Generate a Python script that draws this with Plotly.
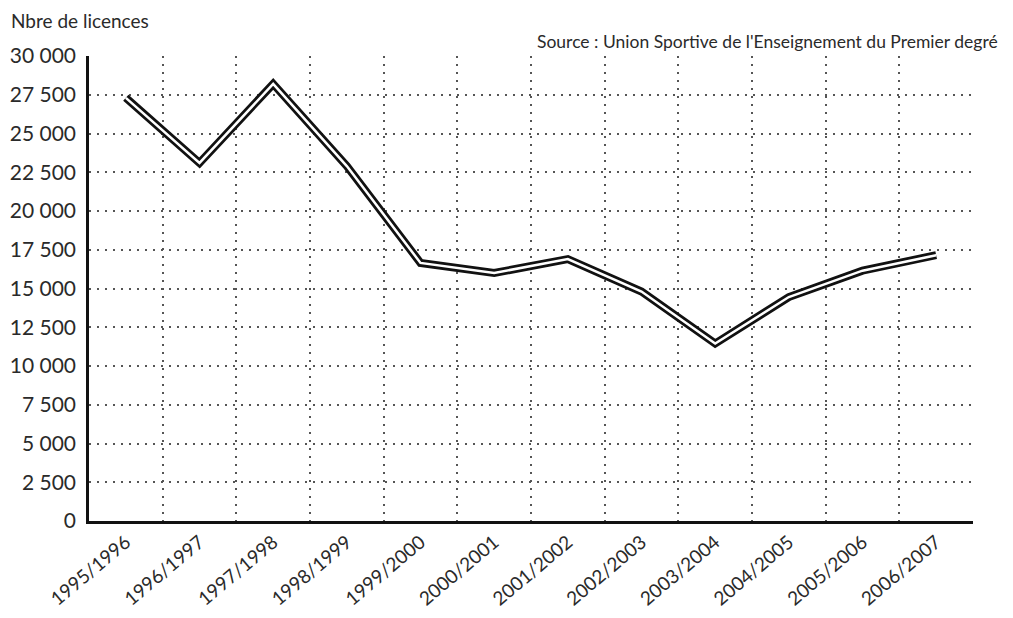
import plotly.graph_objects as go

seasons = ["1995/1996", "1996/1997", "1997/1998", "1998/1999", "1999/2000", "2000/2001",
           "2001/2002", "2002/2003", "2003/2004", "2004/2005", "2005/2006", "2006/2007"]
licences = [27300, 23100, 28200, 22900, 16650, 16000, 16900, 14800, 11450, 14450, 16150, 17150]

y_ticks = [0, 2500, 5000, 7500, 10000, 12500, 15000, 17500, 20000, 22500, 25000, 27500, 30000]

FONT = "Lato, 'Open Sans', sans-serif"
TXT = "#2a2a2a"

fig = go.Figure()
fig.add_trace(go.Scatter(x=seasons, y=licences, mode="lines",
                         line=dict(color="#111111", width=8), hoverinfo="skip", showlegend=False))
fig.add_trace(go.Scatter(x=seasons, y=licences, mode="lines",
                         line=dict(color="white", width=2.5), showlegend=False))

fig.update_layout(
    width=1013, height=618,
    margin=dict(l=81, r=48, t=48, b=105),
    paper_bgcolor="white", plot_bgcolor="white",
    separators=", ",
    font=dict(family=FONT, color=TXT),
    xaxis=dict(
        type="category", range=[-0.5, 11.5], tickson="boundaries", automargin=False,
        showgrid=True, gridcolor="#555555", griddash="2px,6px", gridwidth=1.5,
        showline=True, linecolor="#111111", linewidth=2.5,
        ticks="", tickangle=-40, tickfont=dict(size=19, family=FONT, color=TXT),
        zeroline=False,
    ),
    yaxis=dict(
        range=[0, 30000], tickvals=y_ticks, tickformat=",d", automargin=False,
        showgrid=True, gridcolor="#555555", griddash="2px,6px", gridwidth=1.5,
        showline=True, linecolor="#111111", linewidth=2.5,
        ticks="", ticklabelstandoff=6, tickfont=dict(size=21, family=FONT, color=TXT),
        zeroline=False,
    ),
    annotations=[
        dict(text="Nbre de licences", xref="paper", yref="paper", x=-0.09, y=1,
             xanchor="left", yanchor="bottom", yshift=22, showarrow=False,
             font=dict(size=19, family=FONT, color=TXT)),
        dict(text="Source : Union Sportive de l'Enseignement du Premier degré", xref="paper", yref="paper",
             x=1.031, y=1, xanchor="right", yanchor="bottom", yshift=2, showarrow=False,
             font=dict(size=17.5, family=FONT, color=TXT)),
    ],
)

fig.write_html("out.html")
